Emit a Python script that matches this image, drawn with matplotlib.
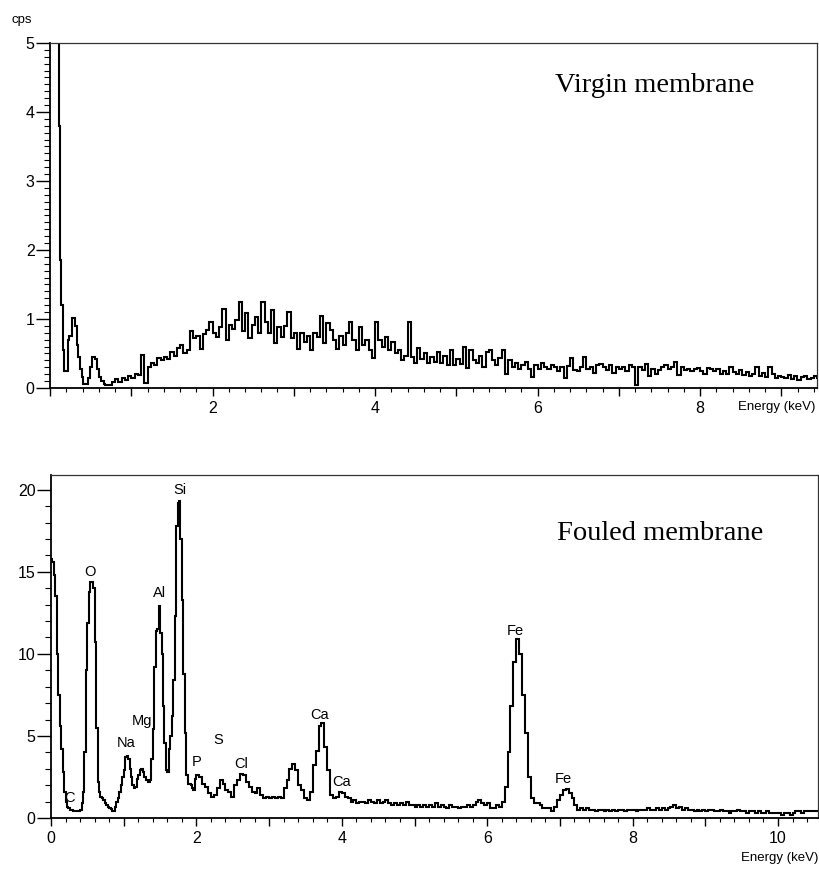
import numpy as np
import matplotlib
matplotlib.use("Agg")
import matplotlib.pyplot as plt
from matplotlib.ticker import MultipleLocator, FuncFormatter

# ---------------- data: virgin membrane ----------------
virgin_head_energy = [0.090, 0.105, 0.120, 0.135, 0.155, 0.170, 0.225, 0.235, 0.265,
                      0.310, 0.335, 0.350, 0.370, 0.390, 0.410, 0.470, 0.495, 0.520,
                      0.550, 0.575, 0.600, 0.630, 0.660]
virgin_head_cps = [8.00, 3.80, 1.85, 1.20, 0.55, 0.24, 0.70, 0.76, 1.02,
                   0.90, 0.62, 0.45, 0.28, 0.16, 0.06, 0.14, 0.30, 0.45,
                   0.42, 0.28, 0.16, 0.10, 0.06]
virgin_bulk_start = 0.68
virgin_bulk_step = 0.04
virgin_bulk_cps = [
    0.05, 0.04, 0.09, 0.13, 0.08, 0.14, 0.11, 0.17, 0.14, 0.21,
    0.19, 0.48, 0.07, 0.30, 0.36, 0.33, 0.43, 0.40, 0.45, 0.42,
    0.52, 0.47, 0.58, 0.62, 0.50, 0.55, 0.82, 0.72, 0.76, 0.57,
    0.78, 0.84, 0.96, 0.80, 0.74, 0.88, 1.15, 0.69, 0.92, 0.86,
    0.98, 1.25, 0.83, 1.08, 0.72, 0.92, 1.03, 0.80, 1.24, 0.95,
    0.79, 1.13, 0.65, 0.88, 0.74, 0.90, 1.10, 0.72, 0.80, 0.57,
    0.80, 0.66, 0.76, 0.55, 0.80, 0.74, 1.05, 0.65, 0.94, 0.84,
    0.70, 0.57, 0.76, 0.62, 0.79, 0.96, 0.70, 0.55, 0.89, 0.62,
    0.69, 0.55, 0.43, 0.96, 0.70, 0.60, 0.74, 0.55, 0.66, 0.50,
    0.55, 0.40, 0.47, 0.96, 0.45, 0.36, 0.58, 0.42, 0.50, 0.36,
    0.45, 0.38, 0.52, 0.36, 0.46, 0.33, 0.55, 0.34, 0.42, 0.35,
    0.60, 0.29, 0.55, 0.40, 0.36, 0.46, 0.31, 0.52, 0.55, 0.40,
    0.33, 0.43, 0.55, 0.21, 0.40, 0.30, 0.36, 0.27, 0.33, 0.38,
    0.27, 0.16, 0.34, 0.28, 0.36, 0.30, 0.27, 0.33, 0.31, 0.25,
    0.30, 0.14, 0.32, 0.43, 0.26, 0.24, 0.30, 0.45, 0.28, 0.30,
    0.22, 0.33, 0.35, 0.30, 0.26, 0.34, 0.22, 0.30, 0.28, 0.31,
    0.24, 0.33, 0.30, 0.04, 0.30, 0.26, 0.35, 0.18, 0.28, 0.20,
    0.26, 0.31, 0.33, 0.28, 0.30, 0.38, 0.19, 0.30, 0.26, 0.28,
    0.24, 0.27, 0.29, 0.25, 0.20, 0.29, 0.27, 0.24, 0.28, 0.21,
    0.25, 0.20, 0.31, 0.23, 0.20, 0.26, 0.19, 0.23, 0.17, 0.21,
    0.31, 0.18, 0.22, 0.16, 0.31, 0.20, 0.14, 0.18, 0.16, 0.15,
    0.19, 0.13, 0.17, 0.12, 0.16, 0.18, 0.13, 0.15, 0.18, 0.14,
]

# ---------------- data: fouled membrane ----------------
fouled_low_start = 0.00
fouled_low_step = 0.02
fouled_low_cps = [
    15.8, 15.6, 14.8, 13.5, 10.0, 7.5, 5.6, 4.2, 2.8, 1.6,
    1.0, 0.7, 0.6, 0.5, 0.5, 0.45, 0.4, 0.4, 0.45, 0.4,
    0.5, 0.9, 1.6, 4.0, 9.0, 11.9, 13.8, 14.4, 14.4, 14.0,
    10.7, 5.5, 2.2, 1.6, 1.3, 1.2, 1.1, 0.9, 0.8, 0.7,
    0.6, 0.55, 0.45, 0.4, 0.7, 1.0, 1.2, 1.6, 2.0, 2.5,
    2.9, 3.7, 3.8, 3.6, 3.0, 2.5, 2.0, 1.8, 1.9, 2.4,
    2.6, 2.9, 3.0, 2.8, 2.5, 2.3, 2.3, 2.2, 2.3, 3.6,
    5.4, 9.2, 11.4, 11.5, 12.9, 11.3, 10.0, 6.8, 4.6, 2.9,
    2.8, 4.2, 5.0, 6.2, 8.4, 12.3, 17.8, 19.2, 19.3, 17.0,
    13.3, 8.8, 5.2, 2.6, 2.1, 2.1, 2.0, 1.8, 1.7, 2.4,
]
fouled_high_start = 2.00
fouled_high_step = 0.04
fouled_high_cps = [
    2.6, 2.5, 2.1, 1.9, 1.5, 1.3, 1.4, 1.8, 2.3, 2.1,
    1.7, 1.6, 1.3, 2.0, 2.3, 2.7, 2.6, 2.2, 1.9, 1.6,
    1.5, 1.8, 1.4, 1.2, 1.3, 1.2, 1.3, 1.2, 1.3, 1.2,
    1.8, 2.3, 3.0, 3.3, 2.9, 2.0, 1.7, 1.2, 1.1, 1.6,
    3.2, 4.1, 5.6, 5.8, 4.3, 2.9, 1.4, 1.2, 1.3, 1.6,
    1.5, 1.3, 1.2, 1.0, 1.1, 0.9, 1.0, 1.0, 0.9, 1.1,
    1.0, 0.9, 1.1, 0.9, 1.0, 1.1, 0.9, 0.8, 0.9, 0.8,
    0.9, 0.8, 1.0, 0.8, 0.8, 0.7, 0.8, 0.7, 0.8, 0.7,
    0.8, 0.7, 0.9, 0.7, 0.8, 0.7, 0.6, 0.8, 0.7, 0.7,
    0.6, 0.7, 0.7, 0.8, 0.7, 0.8, 1.0, 1.1, 0.9, 0.8,
    0.9, 0.6, 0.6, 0.8, 0.7, 1.0, 1.9, 4.0, 6.8, 9.5,
    10.9, 10.0, 7.5, 5.2, 2.5, 1.2, 0.9, 0.9, 0.8, 0.6,
    0.6, 0.6, 0.4, 0.7, 1.1, 1.4, 1.7, 1.75, 1.5, 1.2,
    0.8, 0.5, 0.6, 0.5, 0.6, 0.5, 0.5, 0.4, 0.5, 0.5,
    0.4, 0.5, 0.4, 0.5, 0.4, 0.5, 0.5, 0.4, 0.5, 0.5,
    0.5, 0.4, 0.5, 0.5, 0.5, 0.6, 0.5, 0.5, 0.6, 0.5,
    0.6, 0.5, 0.6, 0.7, 0.8, 0.6, 0.7, 0.5, 0.6, 0.5,
    0.5, 0.4, 0.5, 0.4, 0.5, 0.4, 0.5, 0.5, 0.4, 0.4,
    0.5, 0.4, 0.4, 0.3, 0.4, 0.4, 0.5, 0.4, 0.4, 0.3,
    0.4, 0.4, 0.3, 0.4, 0.3, 0.3, 0.4, 0.3, 0.3, 0.3,
    0.3, 0.2, 0.3, 0.3, 0.2, 0.3, 0.4, 0.4, 0.3, 0.4,
    0.4, 0.4, 0.4, 0.4,
]

# element peak annotations (element, energy keV, label height cps)
fouled_elements = ["C", "O", "Na", "Mg", "Al", "Si", "P", "S", "Cl", "Ca", "Ca", "Fe", "Fe"]
fouled_element_kev = [0.26, 0.54, 1.03, 1.25, 1.49, 1.77, 2.00, 2.30, 2.62, 3.69, 4.00, 6.38, 7.05]
fouled_element_cps = [1.2, 15.0, 4.6, 5.9, 13.7, 20.0, 3.4, 4.75, 3.3, 6.3, 2.2, 11.4, 2.35]

virgin_title = "Virgin membrane"
fouled_title = "Fouled membrane"
x_label = "Energy (keV)"
y_label = "cps"

# ---------------- build arrays ----------------
v_bulk_e = np.round(virgin_bulk_start + virgin_bulk_step * np.arange(len(virgin_bulk_cps)), 3)
v_energy = np.concatenate([virgin_head_energy, v_bulk_e])
v_cps = np.concatenate([virgin_head_cps, virgin_bulk_cps])
v_edges = np.append(v_energy, v_energy[-1] + virgin_bulk_step)

f_low_e = np.round(fouled_low_start + fouled_low_step * np.arange(len(fouled_low_cps)), 3)
f_high_e = np.round(fouled_high_start + fouled_high_step * np.arange(len(fouled_high_cps)), 3)
f_energy = np.concatenate([f_low_e, f_high_e])
f_cps = np.concatenate([fouled_low_cps, fouled_high_cps])
f_edges = np.append(f_energy, f_energy[-1] + fouled_high_step)

# ---------------- figure ----------------
plt.rcParams['font.family'] = ['Liberation Sans', 'DejaVu Sans']
W, H = 820, 871
fig = plt.figure(figsize=(W / 100, H / 100), dpi=100)

ax1 = fig.add_axes([50 / W, 1 - 388 / H, (817 - 50) / W, (388 - 43) / H])
ax2 = fig.add_axes([51 / W, 1 - 818 / H, (818 - 51) / W, (818 - 475) / H])

ax1.stairs(v_cps, v_edges, baseline=None, color='black', lw=1.5)
ax2.stairs(f_cps, f_edges, baseline=None, color='black', lw=1.5)

ax1.set_xlim(0, 9.44)
ax1.set_ylim(0, 5)
ax2.set_xlim(0, 10.55)
ax2.set_ylim(0, 20.9)


def even_fmt(hide_zero):
    def f(v, p):
        iv = int(round(v))
        if iv % 2 != 0:
            return ""
        if hide_zero and iv == 0:
            return ""
        return str(iv)
    return FuncFormatter(f)


for ax, hide0, ymaj, ymin in [(ax1, True, 1, 0.1), (ax2, False, 5, 1)]:
    ax.xaxis.set_major_locator(MultipleLocator(1))
    ax.xaxis.set_minor_locator(MultipleLocator(0.2))
    ax.xaxis.set_major_formatter(even_fmt(hide0))
    ax.yaxis.set_major_locator(MultipleLocator(ymaj))
    ax.yaxis.set_minor_locator(MultipleLocator(ymin))
    ax.tick_params(axis='x', which='major', direction='out', length=6, width=1,
                   labelsize=11.5, pad=3)
    ax.tick_params(axis='x', which='minor', direction='out', length=3, width=0.8)
    ax.tick_params(axis='y', which='major', direction='out', length=10, width=1,
                   labelsize=11.5, pad=1)
    ax.tick_params(axis='y', which='minor', direction='out', length=4, width=0.8)
    for s in ['left', 'bottom']:
        ax.spines[s].set_linewidth(1.3)
        ax.spines[s].set_color('black')
    for s in ['top', 'right']:
        ax.spines[s].set_linewidth(0.9)
        ax.spines[s].set_color('#333333')

fig.text(655 / W, 1 - 85 / H, virgin_title, family=['Liberation Serif', 'DejaVu Serif'],
         fontsize=20.5, ha='center', va='center')
fig.text(660 / W, 1 - 533 / H, fouled_title, family=['Liberation Serif', 'DejaVu Serif'],
         fontsize=20.5, ha='center', va='center')

fig.text(815 / W, 1 - 407 / H, x_label, fontsize=9.5, ha='right', va='center')
fig.text(818 / W, 1 - 858 / H, x_label, fontsize=9.5, ha='right', va='center')
fig.text(22 / W, 1 - 20 / H, y_label, fontsize=9.5, ha='center', va='center')

for name, ex, ey in zip(fouled_elements, fouled_element_kev, fouled_element_cps):
    ax2.text(ex, ey, name, fontsize=10.5, ha='center', va='center')

fig.savefig("out.png", dpi=100)
